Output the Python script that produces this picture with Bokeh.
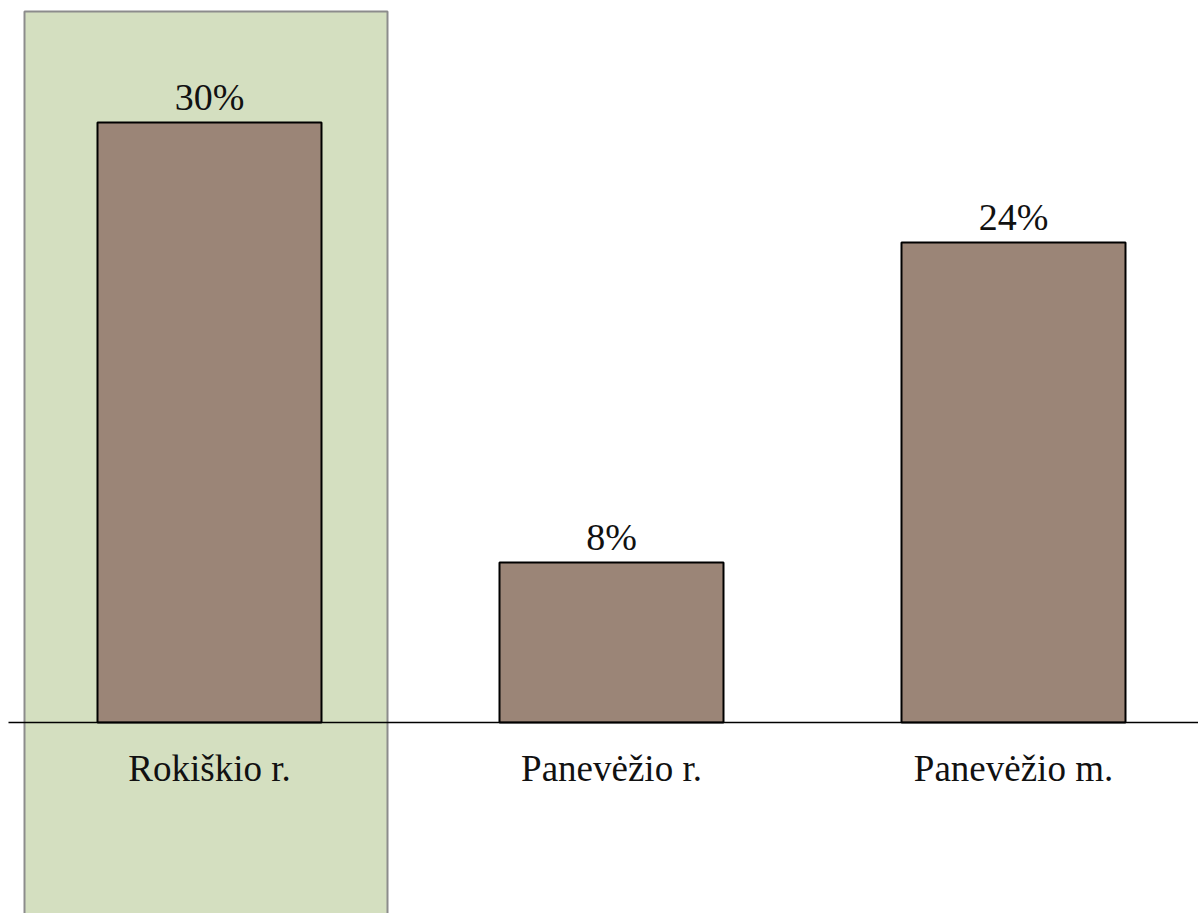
from bokeh.plotting import figure
from bokeh.models import Range1d, ColumnDataSource, LabelSet
from bokeh.embed import file_html
from bokeh.resources import INLINE

categories = ["Rokiškio r.", "Panevėžio r.", "Panevėžio m."]
values = [30, 8, 24]
value_labels = ["30%", "8%", "24%"]
highlight_index = 0

W, H = 1198, 913
px_per_cat = 402.0
px_per_pct = 20.0
first_center_px = 209.0
zero_px_from_top = 722.0

x_start = -first_center_px / px_per_cat
x_end = x_start + W / px_per_cat
y_end = zero_px_from_top / px_per_pct
y_start = -(H - zero_px_from_top) / px_per_pct

p = figure(width=W, height=H, output_backend="svg", toolbar_location=None,
           x_range=Range1d(x_start, x_end), y_range=Range1d(y_start, y_end),
           min_border=0, min_border_left=0, min_border_right=0,
           min_border_top=0, min_border_bottom=0)
p.axis.visible = False
p.grid.visible = False
p.outline_line_color = None
p.background_fill_color = "white"
p.border_fill_color = "white"

def px_to_x(px):
    return (px - first_center_px) / px_per_cat

# highlight band
p.quad(left=[highlight_index + px_to_x(24)], right=[highlight_index + px_to_x(387)],
       top=[(zero_px_from_top - 11) / px_per_pct], bottom=[y_start - 5],
       fill_color="#d4dfc0", line_color="#8c8c8c", line_width=2)

xs = list(range(len(categories)))
src = ColumnDataSource(dict(x=xs, top=values, lab=value_labels, cat=categories,
                            zero=[0] * len(xs)))
p.vbar(x="x", top="top", bottom=0, width=224 / px_per_cat, source=src,
       fill_color="#9b8577", line_color="black", line_width=2)

# category axis line
p.segment(x0=[px_to_x(8)], x1=[x_end + 1], y0=[0], y1=[0],
          line_color="black", line_width=1.5)

p.add_layout(LabelSet(x="x", y="top", text="lab", source=src, y_offset=13,
                      text_align="center", text_baseline="alphabetic",
                      text_font="Liberation Serif", text_font_size="38px",
                      text_color="#111111"))
p.add_layout(LabelSet(x="x", y="zero", text="cat", source=src, y_offset=-58,
                      text_align="center", text_baseline="alphabetic",
                      text_font="Liberation Serif", text_font_size="37px",
                      text_color="#111111"))

open("out.html", "w").write(file_html(p, INLINE))
